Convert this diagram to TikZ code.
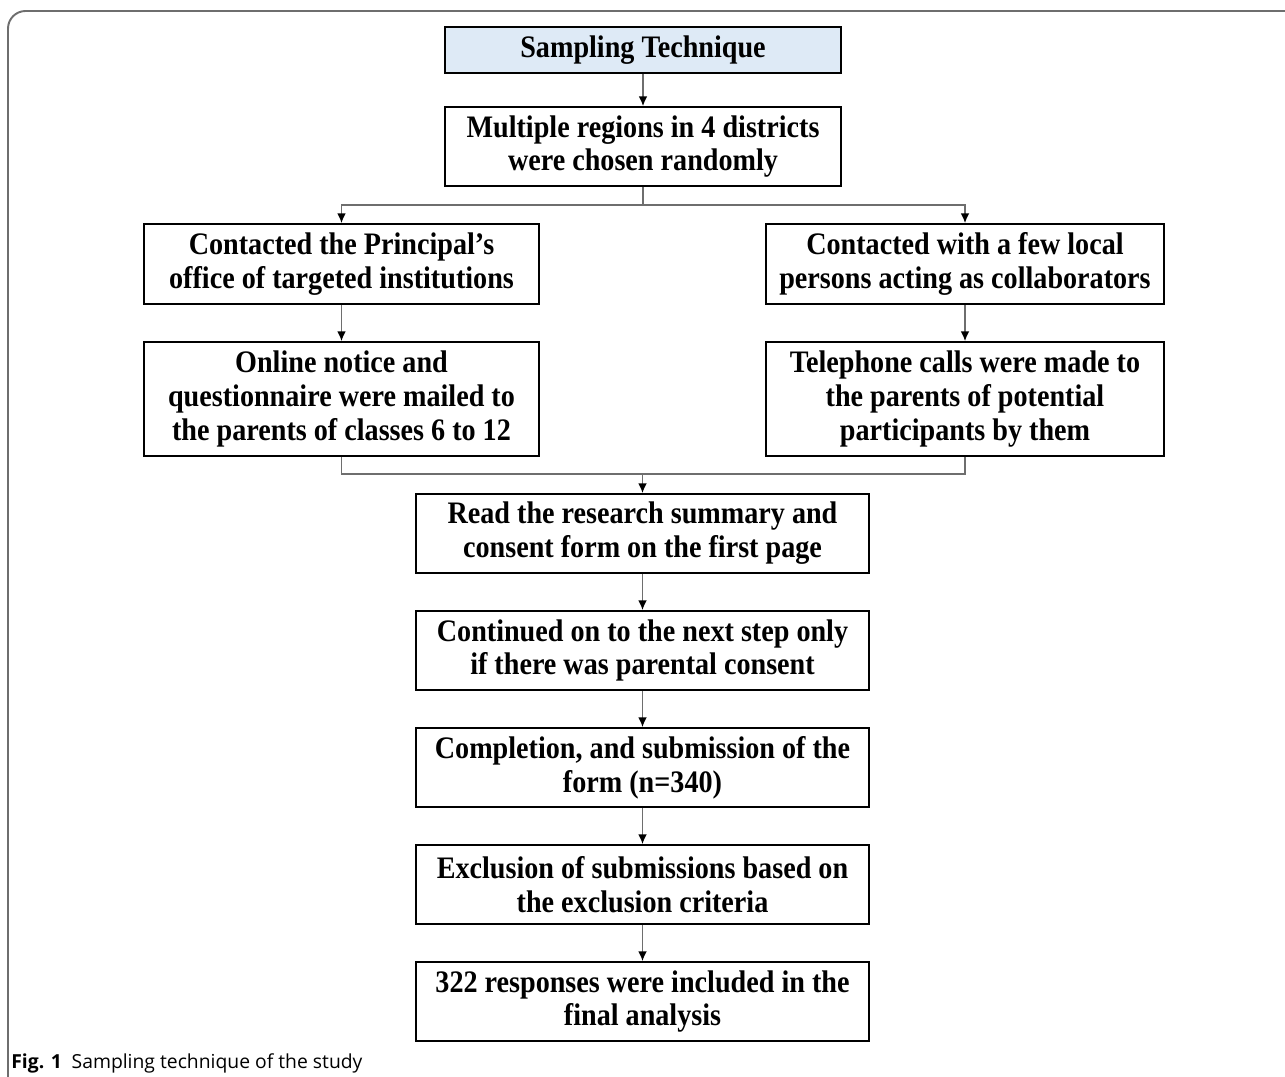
\documentclass[tikz,border=0pt]{standalone}
\usepackage{fontspec}
\setmainfont{Liberation Serif}[FakeStretch=0.9]
\newfontfamily\capfont{Open Sans}
\usetikzlibrary{arrows.meta}
\definecolor{headblue}{RGB}{222,234,246}
\definecolor{linkgray}{RGB}{110,110,110}
\newcommand{\pxu}{0.02cm}
\begin{document}
\begin{tikzpicture}[x=\pxu, y=-\pxu,
    box/.style={draw, line width=1.1pt, align=center, inner sep=0pt,
        font=\fontsize{17.8}{19.3}\selectfont\bfseries},
    link/.style={draw=linkgray, line width=0.8pt},
    >={Latex[length=5.5pt, width=5pt, color=black]}]
    \useasboundingbox (0,0) rectangle (1285,1077);
    % frame and caption
    \draw[linkgray, line width=1.1pt, rounded corners=10] (8,1085) -- (8,11) -- (1295,11);
    \node[anchor=base west, inner sep=0pt, font=\capfont\fontsize{11}{13}\selectfont] (caption) at (11,1068)
        {\textbf{Fig. 1}\enspace Sampling technique of the study};

    % top
    \node[box, fill=headblue, minimum width=396*\pxu, minimum height=46*\pxu] (title) at (643,50) {Sampling Technique};
    \node[box, minimum width=396*\pxu, minimum height=79*\pxu] (regions) at (643,146.5) {Multiple regions in 4 districts\\were chosen randomly};

    % two branches
    \node[box, minimum width=395*\pxu, minimum height=80*\pxu] (principal) at (341.5,264) {Contacted the Principal’s\\office of targeted institutions};
    \node[box, minimum width=398*\pxu, minimum height=80*\pxu] (local) at (965,264) {Contacted with a few local\\persons acting as collaborators};
    \node[box, minimum width=395*\pxu, minimum height=114*\pxu] (online) at (341.5,399) {Online notice and\\questionnaire were mailed to\\the parents of classes 6 to 12};
    \node[box, minimum width=398*\pxu, minimum height=114*\pxu] (phone) at (965,399) {Telephone calls were made to\\the parents of potential\\participants by them};

    % main column
    \node[box, minimum width=453*\pxu, minimum height=79*\pxu] (summary) at (642.5,533.5) {Read the research summary and\\consent form on the first page};
    \node[box, minimum width=453*\pxu, minimum height=79*\pxu] (consent) at (642.5,650.5) {Continued on to the next step only\\if there was parental consent};
    \node[box, minimum width=453*\pxu, minimum height=79*\pxu] (completion) at (642.5,767.5) {Completion, and submission of the\\form (n=340)};
    \node[box, minimum width=453*\pxu, minimum height=79*\pxu] (exclusion) at (642.5,884.5) {Exclusion of submissions based on\\the exclusion criteria};
    \node[box, minimum width=453*\pxu, minimum height=79*\pxu] (included) at (642.5,1001.5) {322 responses were included in the\\final analysis};

    \coordinate (split) at (643,205);
    \coordinate (merge) at (642.5,474);

    % connectors
    \draw[link, ->] (title) -- (regions);
    \draw[link] (regions) -- (split);
    \draw[link, ->] (split) -| (principal);
    \draw[link, ->] (split) -| (local);
    \draw[link, ->] (principal) -- (online);
    \draw[link, ->] (local) -- (phone);
    \draw[link] (online) |- (merge);
    \draw[link] (phone) |- (merge);
    \draw[link, ->] (merge) -- (summary);
    \draw[link, ->] (summary) -- (consent);
    \draw[link, ->] (consent) -- (completion);
    \draw[link, ->] (completion) -- (exclusion);
    \draw[link, ->] (exclusion) -- (included);
\end{tikzpicture}
\end{document}
